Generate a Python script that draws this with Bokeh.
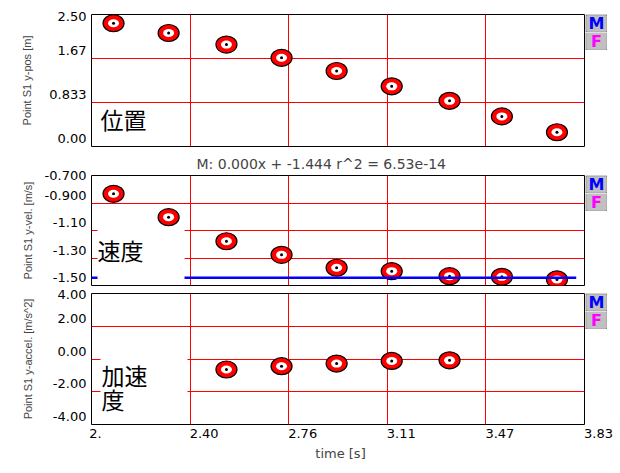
from bokeh.plotting import figure
from bokeh.models import Range1d, FixedTicker, Grid, Label, ColumnDataSource, Spacer
from bokeh.layouts import column, row
from bokeh.embed import file_html
from bokeh.resources import INLINE

# ---------------- data ----------------
time_s = [2.12, 2.32, 2.53, 2.73, 2.93, 3.13, 3.34, 3.53, 3.73]
y_pos = [2.335, 2.15, 1.93, 1.68, 1.43, 1.14, 0.865, 0.57, 0.27]
y_vel = [-0.833, -1.003, -1.178, -1.277, -1.371, -1.396, -1.432, -1.437, -1.456]
acc_time = [2.53, 2.73, 2.93, 3.13, 3.34]
y_acc = [-0.64, -0.44, -0.28, -0.12, -0.08]

fit_slope = 0.000
fit_intercept = -1.444
fit_r2 = 6.53e-14
fit_time = [2.04, 3.80]

x_ticks = [2.04, 2.398, 2.756, 3.114, 3.472, 3.83]
x_tick_labels = ["2.", "2.40", "2.76", "3.11", "3.47", "3.83"]
pos_ticks = [0.0, 0.8333, 1.6667, 2.5]
pos_tick_labels = ["0.00", "0.833", "1.67", "2.50"]
vel_ticks = [-1.5, -1.3, -1.1, -0.9, -0.7]
vel_tick_labels = ["-1.50", "-1.30", "-1.10", "-0.900", "-0.700"]
acc_ticks = [-4.0, -2.0, 0.0, 2.0, 4.0]
acc_tick_labels = ["-4.00", "-2.00", "0.00", "2.00", "4.00"]

pos_title = "Point S1 y-pos [m]"
vel_title = "Point S1 y-vel. [m/s]"
acc_title = "Point S1 y-accel. [m/s^2]"
x_title = "time [s]"
panel_names = ["位置", "速度", "加速\n度"]
fit_text = f"M: {fit_slope:.3f}x + {fit_intercept:.3f} r^2 = {fit_r2:.2e}"

# ---------------- styling ----------------
TICK_FONT = "DejaVu Sans"
TICK_SIZE = "13px"
JP_FONT = "Noto Sans CJK JP"
JP_SIZE = "23px"
GRID_RED = "#ff0000"
LEFT = 91            # frame left edge (px)
FRAME_RIGHT = 584    # frame right edge (px)
MAIN_W = FRAME_RIGHT + 1
FRAME_W = FRAME_RIGHT - LEFT
Y_LABEL_LIFT = 8     # the software draws value labels a little above their tick
X_LABEL_SHIFT = [4, 14, 14, 14, 14, 14]  # ...and time labels starting at their tick

xr = Range1d(start=x_ticks[0], end=x_ticks[-1])


def add_points(p, xs, ys):
    src = ColumnDataSource(dict(x=xs, y=ys))
    p.ellipse(x="x", y="y", width=21, height=17, width_units="screen", height_units="screen",
              fill_color="#ff0000", line_color="black", line_width=1.2, source=src)
    p.ellipse(x="x", y="y", width=11, height=8, width_units="screen", height_units="screen",
              fill_color="white", line_color=None, source=src)
    p.scatter(x="x", y="y", size=3, marker="circle", fill_color="black", line_color=None, source=src)


def plain_axis(ax):
    ax.major_tick_out = 0
    ax.major_tick_in = 0
    ax.minor_tick_out = 0
    ax.minor_tick_in = 0
    ax.axis_line_color = None
    ax.major_label_text_font = TICK_FONT
    ax.major_label_text_font_size = TICK_SIZE
    ax.major_label_text_color = "black"


def make_panel(height, top, bottom, yticks, ylabels, ytitle, title_standoff, top_lift, title=None):
    frame_h = height - top - bottom
    yr = Range1d(start=yticks[0], end=yticks[-1])
    p = figure(width=MAIN_W, height=height, x_range=xr, y_range=yr, title=title,
               output_backend="svg", toolbar_location=None,
               x_axis_location=None,
               min_border_left=LEFT, min_border_right=1,
               min_border_top=top, min_border_bottom=bottom)
    p.background_fill_color = "white"
    p.border_fill_color = "white"
    p.outline_line_color = "black"
    p.outline_line_width = 1
    p.outline_line_alpha = 1.0

    p.xgrid.visible = False
    p.ygrid.visible = False
    p.add_layout(Grid(dimension=0, ticker=FixedTicker(ticks=x_ticks[1:-1]),
                      grid_line_color=GRID_RED, grid_line_width=1))
    p.add_layout(Grid(dimension=1, ticker=FixedTicker(ticks=yticks[1:-1]),
                      grid_line_color=GRID_RED, grid_line_width=1))

    # value labels: placed as the original software draws them
    per_px = (yticks[-1] - yticks[0]) / frame_h
    label_pos = [t + Y_LABEL_LIFT * per_px for t in yticks[:-1]] + [yticks[-1] + top_lift * per_px]
    ax = p.yaxis[0]
    ax.ticker = FixedTicker(ticks=label_pos)
    ax.major_label_overrides = {t: lab for t, lab in zip(label_pos, ylabels)}
    plain_axis(ax)
    ax.major_label_standoff = 5
    ax.axis_label = ytitle
    ax.axis_label_text_font = "Liberation Sans"
    ax.axis_label_text_font_size = "11px"
    ax.axis_label_text_font_style = "normal"
    ax.axis_label_standoff = title_standoff
    return p, yr


def button(letter, color, top_border):
    b = figure(width=22, height=18, x_range=(0, 1), y_range=(0, 1), title=None,
               output_backend="svg", toolbar_location=None,
               x_axis_location=None, y_axis_location=None,
               min_border_left=1, min_border_right=1,
               min_border_top=top_border, min_border_bottom=1)
    b.background_fill_color = "#c0c0c0"
    b.border_fill_color = "#404040"
    b.outline_line_color = None
    b.xgrid.visible = False
    b.ygrid.visible = False
    b.add_layout(Label(x=0.5, y=0.5, text=letter, text_align="center", text_baseline="middle",
                       text_font="DejaVu Sans", text_font_style="bold", text_font_size="16px",
                       text_color=color))
    return b


def with_buttons(p, top):
    return row(p, column(Spacer(width=22, height=top), button("M", "#0000ff", 1),
                         button("F", "#ff00ff", 0), spacing=0), spacing=0)


def name_label(yr, text, xo, yo, pad, bg="white"):
    return Label(x=xr.start, y=yr.start, x_offset=xo, y_offset=yo, text=text,
                 text_font=JP_FONT, text_font_size=JP_SIZE, text_line_height=0.72,
                 text_align="left", text_baseline="middle", text_color="black",
                 background_fill_color=bg, padding=pad)


# ---------------- position panel ----------------
p1, yr1 = make_panel(147, 14, 1, pos_ticks, pos_tick_labels, pos_title, 13, -2)
add_points(p1, time_s, y_pos)
p1.add_layout(name_label(yr1, panel_names[0], 9, 28, 0, bg=None))

# ---------------- velocity panel ----------------
p2, yr2 = make_panel(139, 28, 1, vel_ticks, vel_tick_labels, vel_title, 8, 0, title=fit_text)
p2.title.align = "left"
p2.title.offset = 105
p2.title.text_font = TICK_FONT
p2.title.text_font_size = "14px"
p2.title.text_font_style = "normal"
p2.title.standoff = 8
add_points(p2, time_s, y_vel)
fit_vals = [fit_slope * t + fit_intercept for t in fit_time]
p2.line(x=fit_time, y=fit_vals, line_color="#0000ff", line_width=2.5)
p2.add_layout(name_label(yr2, panel_names[1], 6, 30, dict(left=0, right=41, top=4, bottom=15)))

# ---------------- acceleration panel ----------------
p3, yr3 = make_panel(139, 7, 1, acc_ticks, acc_tick_labels, acc_title, 16, -1)
add_points(p3, acc_time, y_acc)
p3.add_layout(name_label(yr3, panel_names[2], 9, 35, dict(left=1, right=40, top=1, bottom=6)))

# ---------------- shared time axis (same scale as the panels above) ----------------
AX_LEFT = 67
AX_RIGHT = 613
per_px_x = (xr.end - xr.start) / FRAME_W
ax_range = Range1d(start=xr.start - (LEFT - AX_LEFT) * per_px_x,
                   end=xr.start + (AX_RIGHT - LEFT) * per_px_x)
pax = figure(width=620, height=48, x_range=ax_range, y_range=(0, 1), title=None,
             output_backend="svg", toolbar_location=None,
             x_axis_location="below", y_axis_location=None,
             min_border_left=AX_LEFT, min_border_right=620 - AX_RIGHT,
             min_border_top=0, min_border_bottom=47)
pax.outline_line_color = None
pax.background_fill_color = "white"
pax.border_fill_color = "white"
pax.xgrid.visible = False
pax.ygrid.visible = False
x_label_pos = [t + s * per_px_x for t, s in zip(x_ticks, X_LABEL_SHIFT)]
xa = pax.xaxis[0]
xa.ticker = FixedTicker(ticks=x_label_pos)
xa.major_label_overrides = {t: lab for t, lab in zip(x_label_pos, x_tick_labels)}
plain_axis(xa)
xa.major_label_standoff = 2
xa.axis_label = x_title
xa.axis_label_text_font = TICK_FONT
xa.axis_label_text_font_size = TICK_SIZE
xa.axis_label_text_font_style = "normal"
xa.axis_label_standoff = 5

layout = column(with_buttons(p1, 14), with_buttons(p2, 28), with_buttons(p3, 7), pax, spacing=0)
open("out.html", "w").write(file_html(layout, INLINE))
